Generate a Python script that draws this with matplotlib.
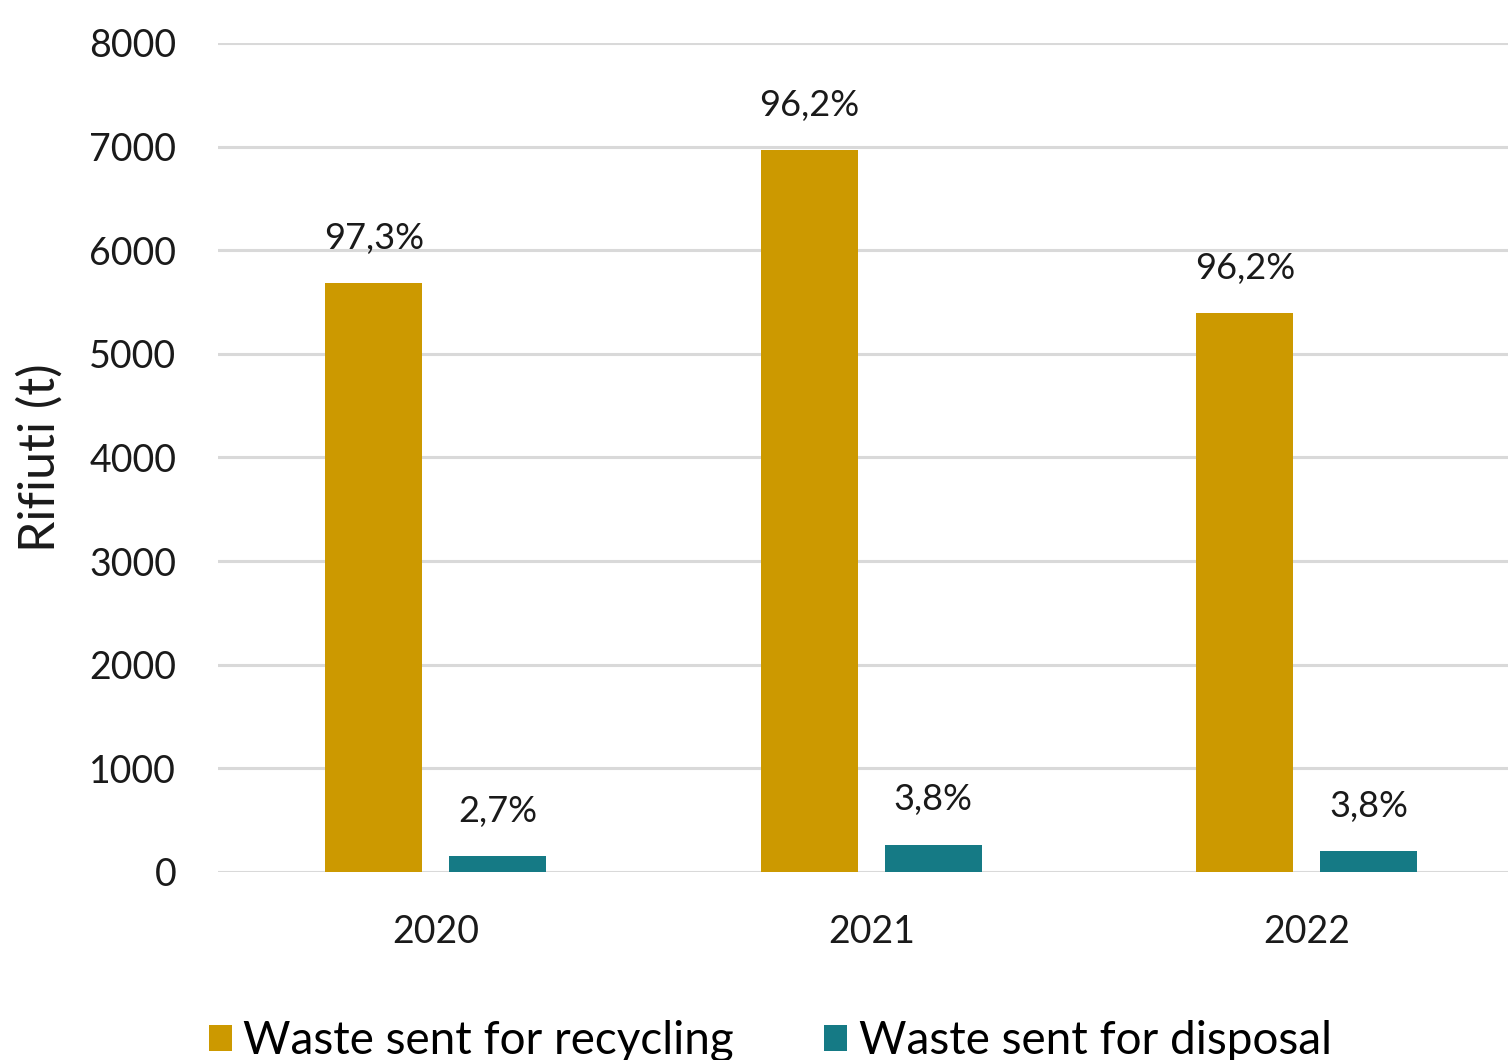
import matplotlib
matplotlib.use("Agg")
import matplotlib.pyplot as plt
import numpy as np

years = ["2020", "2021", "2022"]
recycling = [5680, 6965, 5390]
disposal = [150, 265, 200]
recycling_pct = ["97,3%", "96,2%", "96,2%"]
disposal_pct = ["2,7%", "3,8%", "3,8%"]

gold = "#CC9900"
teal = "#157A85"
txt = "#1a1a1a"

plt.rcParams["font.family"] = ["Lato", "DejaVu Sans"]
plt.rcParams["font.weight"] = "normal"

fig = plt.figure(figsize=(15.08, 10.60), dpi=100)
ax = fig.add_axes([218 / 1508, 188 / 1060, 1290 / 1508, 829 / 1060])

x = np.arange(len(years))
w = 0.223
off = 0.142

b1 = ax.bar(x - off, recycling, w, color=gold, label="Waste sent for recycling", zorder=3)
b2 = ax.bar(x + off, disposal, w, color=teal, label="Waste sent for disposal", zorder=3)

# percentage labels above bars
for bars, labels in [(b1, recycling_pct), (b2, disposal_pct)]:
    for bar, lab in zip(bars, labels):
        ax.annotate(lab, (bar.get_x() + bar.get_width() / 2, bar.get_height()),
                    xytext=(0, 25), textcoords="offset points",
                    ha="center", va="baseline", fontsize=26, color=txt)

ax.set_xlim(-0.5, -0.5 + 1290 / 435.5)
ax.set_ylim(0, 8000)
ax.set_yticks(range(0, 8001, 1000))
ax.set_xticks(x)
ax.set_xticklabels(years)
ax.tick_params(axis="both", length=0, labelsize=27, colors=txt)
ax.tick_params(axis="y", pad=30)
ax.tick_params(axis="x", pad=30)
ax.grid(axis="y", color="#D9D9D9", linewidth=2.2, zorder=0)
for s in ax.spines.values():
    s.set_visible(False)

ax.set_ylabel("Rifiuti (t)", fontsize=36, color=txt)
ax.yaxis.label.set_va("center")
ax.yaxis.set_label_coords(-0.138, 0.5)

fig.legend(loc="lower left", bbox_to_anchor=(209 / 1508, -2 / 1060), ncol=2,
           frameon=False, fontsize=33, handlelength=0.5, handleheight=0.5,
           handletextpad=0.25, columnspacing=1.97, borderpad=0, borderaxespad=0)

plt.savefig("out.png", dpi=100)
